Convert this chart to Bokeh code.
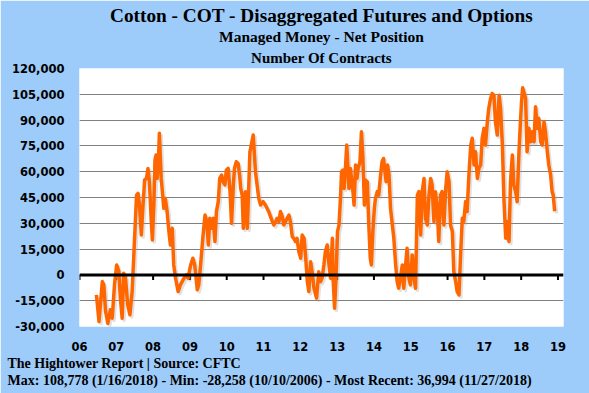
import numpy as np
from bokeh.plotting import figure
from bokeh.models import FixedTicker, NumeralTickFormatter, Span, Title
from bokeh.embed import file_html
from bokeh.resources import INLINE

# ---- data (decimal year, net managed-money position in contracts) ----
dates = [
    2006.46, 2006.53, 2006.62, 2006.66, 2006.71, 2006.77, 2006.84, 2006.89, 2006.95,
    2007.01, 2007.07, 2007.11, 2007.16, 2007.20, 2007.25, 2007.31, 2007.37, 2007.43, 2007.48,
    2007.55, 2007.59, 2007.63, 2007.68, 2007.72, 2007.77, 2007.82, 2007.86, 2007.90, 2007.95, 2007.98,
    2008.02, 2008.05, 2008.08, 2008.11, 2008.15, 2008.17, 2008.22, 2008.26, 2008.29, 2008.33,
    2008.38, 2008.43, 2008.47, 2008.52, 2008.56, 2008.61, 2008.68, 2008.74, 2008.84, 2008.90, 2008.95,
    2009.02, 2009.08, 2009.13, 2009.20, 2009.24, 2009.29, 2009.35, 2009.41, 2009.46, 2009.50,
    2009.54, 2009.59, 2009.63, 2009.68, 2009.72, 2009.77, 2009.81, 2009.86, 2009.90, 2009.95, 2009.99,
    2010.04, 2010.09, 2010.13, 2010.18, 2010.21, 2010.26, 2010.31, 2010.35, 2010.38, 2010.42,
    2010.45, 2010.51, 2010.56, 2010.63, 2010.72, 2010.78, 2010.87, 2010.92, 2010.99,
    2011.05, 2011.14, 2011.24, 2011.28, 2011.33, 2011.37, 2011.42, 2011.46, 2011.51, 2011.55,
    2011.60, 2011.64, 2011.69, 2011.73, 2011.78, 2011.82, 2011.87, 2011.91, 2011.96,
    2012.01, 2012.05, 2012.10, 2012.14, 2012.19, 2012.23, 2012.28, 2012.32, 2012.37, 2012.44,
    2012.50, 2012.55, 2012.59, 2012.64, 2012.68, 2012.73, 2012.78, 2012.82, 2012.87, 2012.89,
    2012.93, 2012.97,
    2013.01, 2013.05, 2013.09, 2013.12, 2013.16, 2013.19, 2013.23, 2013.26, 2013.29, 2013.32,
    2013.36, 2013.39, 2013.43, 2013.46, 2013.50, 2013.54, 2013.57, 2013.62, 2013.66, 2013.70,
    2013.74, 2013.77, 2013.82, 2013.86, 2013.90, 2013.93, 2013.97,
    2014.01, 2014.04, 2014.09, 2014.13, 2014.18, 2014.22, 2014.26, 2014.30, 2014.33, 2014.37,
    2014.41, 2014.45, 2014.50, 2014.54, 2014.59, 2014.63, 2014.67, 2014.72, 2014.77, 2014.81,
    2014.86, 2014.90, 2014.95, 2014.99,
    2015.04, 2015.09, 2015.13, 2015.18, 2015.22, 2015.27, 2015.31, 2015.36, 2015.40, 2015.45,
    2015.49, 2015.54, 2015.58, 2015.63, 2015.67, 2015.72, 2015.76, 2015.81, 2015.85, 2015.90,
    2015.95, 2015.99,
    2016.04, 2016.08, 2016.13, 2016.17, 2016.22, 2016.26, 2016.31, 2016.35, 2016.40, 2016.44,
    2016.49, 2016.53, 2016.58, 2016.63, 2016.67, 2016.72, 2016.76, 2016.81, 2016.85, 2016.90,
    2016.94, 2016.99,
    2017.03, 2017.08, 2017.12, 2017.17, 2017.21, 2017.26, 2017.30, 2017.35, 2017.40, 2017.44,
    2017.49, 2017.53, 2017.58, 2017.62, 2017.67, 2017.71, 2017.76, 2017.80, 2017.85, 2017.89,
    2017.94, 2017.98,
    2018.01, 2018.04, 2018.12, 2018.16, 2018.21, 2018.26, 2018.30, 2018.35, 2018.39, 2018.44,
    2018.48, 2018.53, 2018.57, 2018.62, 2018.66, 2018.71, 2018.75, 2018.80, 2018.84, 2018.87,
    2018.91,
]
net_position = [
    -11600, -27100, -3900, -5800, -21300, -28258, -20300, -25200, -5800,
    5800, 1900, -13500, -25200, 1000, -1900, -17400, -23200, -9700, 13500,
    46400, 47400, 40600, 23200, 38700, 55200, 56100, 61900, 54200, 31000, 20300,
    40600, 66800, 69700, 56100, 69700, 82300, 56100, 46400, 38700, 44500,
    36800, 25000, 17400, 27100, 5800, -1900, -9700, -5800, -1900, 0, -1900,
    5800, 9700, 5800, -8700, -5800, 5800, 21300, 34800, 31000, 17400,
    32900, 27100, 32900, 19400, 36800, 42600, 56100, 58100, 54200, 52300, 61000,
    61900, 48400, 30000, 52300, 61900, 65800, 64800, 58100, 50300, 46400,
    27100, 48400, 27100, 71600, 81300, 60000, 44500, 40600, 42600,
    40600, 36800, 31000, 29000, 31000, 32900, 31000, 36800, 33900, 29000,
    31000, 32900, 34800, 31000, 22300, 21300, 19400, 21300, 13500,
    9700, 23200, 21300, 11600, -3900, -9700, 7700, 1900, -7700, -13500,
    1900, -3900, -1900, 5800, 13500, 17400, 5800, -1900, 21300, -1900,
    -19400, -1900,
    25200, 29000, 44500, 60000, 61000, 50300, 63900, 75500, 63900, 50300,
    61900, 56100, 48400, 40600, 63900, 56100, 61900, 65800, 83200, 67700,
    40600, 55200, 54200, 29000, 9700, 5800, 25200,
    38700, 44500, 48400, 46400, 58100, 65800, 67700, 60000, 54200, 63900,
    58100, 38700, 29000, 21300, 5800, -3900, -7700, -1900, 5800, -7700,
    5800, 15500, -1900, -5800,
    11600, -1900, -7700, 46400, 48400, 23200, 48400, 56100, 32900, 29000,
    44500, 56100, 52300, 31000, 48400, 38700, 19400, 46400, 48400, 29000,
    50300, 60000,
    54200, 29000, 25200, 1900, -3900, -9700, -11600, 9700, 32900, 31000,
    42600, 36800, 58100, 75500, 79400, 63900, 71600, 56100, 61900, 63900,
    79400, 85200,
    75500, 89000, 96800, 102600, 105500, 104500, 89000, 81300, 104500, 96800,
    75500, 44500, 21300, 31000, 19400, 54200, 69700, 52300, 48400, 42600,
    71600, 89000,
    100600, 108778, 102600, 71600, 85200, 77400, 83200, 77400, 97700, 85200,
    91000, 77400, 75500, 89000, 83200, 71600, 63900, 58100, 48400, 46400,
    36994,
]

year_ticks = list(range(2006, 2020))
year_labels = ["06", "07", "08", "09", "10", "11", "12", "13", "14", "15", "16", "17", "18", "19"]
y_ticks = list(range(-30000, 120001, 15000))

title_text = "Cotton - COT - Disaggregated Futures and Options"
subtitle1 = "Managed Money - Net Position"
subtitle2 = "Number Of Contracts"
footer1 = "The Hightower Report | Source: CFTC"
footer2 = "Max: 108,778 (1/16/2018)  -  Min: -28,258 (10/10/2006) - Most Recent:  36,994 (11/27/2018)"

BG = "#9dcbfa"
SERIF = "Liberation Serif"
SANS = "DejaVu Sans"

p = figure(width=589, height=393, output_backend="svg", toolbar_location=None,
           x_range=(2006, 2019.15), y_range=(-30000, 120000),
           min_border_left=79, min_border_right=26, min_border_top=68, min_border_bottom=67)
p.background_fill_color = "white"
p.border_fill_color = BG
p.outline_line_color = None

# grid
p.xgrid.visible = False
p.ygrid.ticker = FixedTicker(ticks=y_ticks)
p.ygrid.grid_line_color = "#808080"
p.ygrid.grid_line_width = 1

# y axis
p.yaxis.ticker = FixedTicker(ticks=y_ticks)
p.yaxis.formatter = NumeralTickFormatter(format="0,0")
p.yaxis.axis_line_color = None
p.yaxis.major_tick_line_color = None
p.yaxis.minor_tick_line_color = None
p.yaxis.major_tick_out = 0
p.yaxis.major_label_standoff = 15
p.yaxis.major_label_text_font = SANS
p.yaxis.major_label_text_font_style = "bold"
p.yaxis.major_label_text_font_size = "11.5px"
p.yaxis.major_label_text_color = "black"

# x axis
p.xaxis.ticker = FixedTicker(ticks=year_ticks)
p.xaxis.major_label_overrides = {t: lab for t, lab in zip(year_ticks, year_labels)}
p.xaxis.axis_line_color = None
p.xaxis.major_tick_line_color = None
p.xaxis.minor_tick_line_color = None
p.xaxis.major_tick_out = 0
p.xaxis.major_label_standoff = 15
p.xaxis.major_label_text_font = SANS
p.xaxis.major_label_text_font_style = "bold"
p.xaxis.major_label_text_font_size = "11.5px"
p.xaxis.major_label_text_color = "black"

# zero axis line with year tick marks
p.add_layout(Span(location=0, dimension="width", line_color="black", line_width=3))
p.segment(x0=year_ticks, y0=[0] * len(year_ticks), x1=year_ticks,
          y1=[-3000] * len(year_ticks), line_color="black", line_width=2)

# series (with soft shadow)
xs = np.array(dates)
ys = np.array(net_position, dtype=float)
p.line(xs + 0.05, ys - 1200, line_color="#9a9a9a", line_alpha=0.3, line_width=3.5, line_join="round")
p.line(xs, ys, line_color="#FF6600", line_width=3.5, line_join="round")

# titles (added closest-first)
p.add_layout(Title(text=subtitle2, align="center", offset=-26.5, standoff=6,
                   text_font=SERIF, text_font_size="15px", text_font_style="bold",
                   text_color="black"), "above")
p.add_layout(Title(text=subtitle1, align="center", offset=-26.5, standoff=0,
                   text_font=SERIF, text_font_size="15.5px", text_font_style="bold",
                   text_color="black"), "above")
p.add_layout(Title(text=title_text, align="center", offset=-26.5, standoff=0,
                   text_font=SERIF, text_font_size="19.3px", text_font_style="bold",
                   text_color="black"), "above")

# footer
p.add_layout(Title(text=footer1, align="left", offset=-72, standoff=0,
                   text_font=SERIF, text_font_size="14px", text_font_style="bold",
                   text_color="black"), "below")
p.add_layout(Title(text=footer2, align="left", offset=-72, standoff=0,
                   text_font=SERIF, text_font_size="14px", text_font_style="bold",
                   text_color="black", text_line_height=0.85), "below")

open("out.html", "w").write(file_html(p, INLINE))
